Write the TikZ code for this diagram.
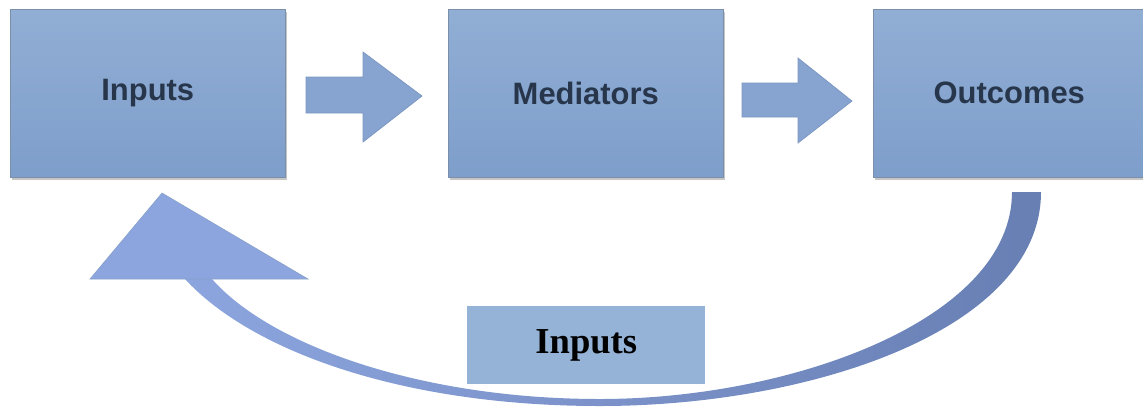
\documentclass[tikz,border=0pt]{standalone}
\usepackage{fontspec}
\setmainfont{Liberation Serif}
\setsansfont{Liberation Sans}
\usetikzlibrary{shadows}
\definecolor{boxtop}{HTML}{91AED4}
\definecolor{boxbot}{HTML}{7E9ECB}
\definecolor{boxline}{HTML}{7C8FA8}
\definecolor{txtdark}{HTML}{27364B}
\definecolor{arrfill}{HTML}{86A4CF}
\definecolor{arrline}{HTML}{7A96C2}
\definecolor{curveL}{HTML}{8DA5DE}
\definecolor{curveR}{HTML}{687FB4}
\definecolor{labfill}{HTML}{95B3D7}
\tikzset{
  stagebox/.style={rectangle, anchor=north west, minimum width=275*0.025cm, minimum height=168*0.025cm,
    top color=boxtop, bottom color=boxbot, draw=boxline, line width=0.4pt,
    drop shadow={shadow xshift=1.2pt, shadow yshift=-1.6pt, opacity=0.45},
    font=\sffamily\bfseries\fontsize{22}{26}\selectfont, text=txtdark, inner sep=0pt},
  blockarrow/.style={fill=arrfill, draw=arrline, line width=0.5pt, line join=miter},
  labelbox/.style={rectangle, anchor=north west, minimum width=238*0.025cm, minimum height=78*0.025cm,
    fill=labfill, draw=none, inner sep=0pt, font=\bfseries\fontsize{26}{30}\selectfont, text=black}
}
\begin{document}
\begin{tikzpicture}[x=0.025cm, y=-0.025cm]
\useasboundingbox (0,0) rectangle (1143,410);
% top boxes
\node[stagebox] (inputs) at (10,9) {Inputs};
\node[stagebox] (mediators) at (448,9) {Mediators};
\node[stagebox, minimum width=272*0.025cm] (outcomes) at (873,9) {Outcomes};
% block arrows
\draw[blockarrow] (306,77) -- (363,77) -- (363,52) -- (422,96) -- (363,142) -- (363,113) -- (306,113) -- cycle;
\draw[blockarrow] (742,83) -- (798,83) -- (798,58) -- (852,101) -- (798,143) -- (798,117) -- (742,117) -- cycle;
% curved feedback arrow
\shade[left color=curveL, right color=curveR]
  (1041,192) .. controls (1041,330) and (810,406) .. (600,406)
  .. controls (400,406) and (250,350) .. (185,279)
  -- (212,279) .. controls (270,345) and (420,399) .. (600,399)
  .. controls (790,399) and (1012,320) .. (1012,192) -- cycle;
\fill[curveL, draw=arrline!90, line width=0.4pt] (162,193) -- (308,279) -- (90,279) -- cycle;
% label box
\node[labelbox] (feedback) at (467,306) {Inputs};
\end{tikzpicture}
\end{document}
